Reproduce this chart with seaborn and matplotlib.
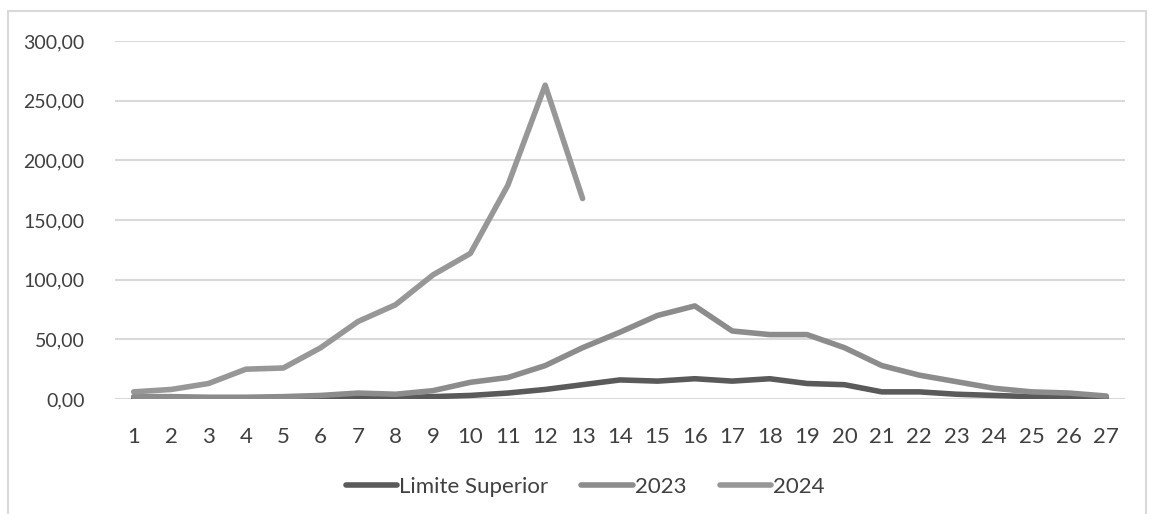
import pandas as pd
import numpy as np
import matplotlib.pyplot as plt
from matplotlib.patches import Rectangle
from matplotlib.ticker import FuncFormatter
import seaborn as sns

semanas = list(range(1, 28))
limite_superior = [1, 1, 1, 1, 1, 1, 1, 1, 2, 3, 5, 8, 12, 16, 15, 17, 15, 17, 13, 12,
                   6, 6, 4, 3, 2, 2, 1.5]
casos_2023 = [2, 2, 1.5, 1.5, 2, 3, 5, 4, 7, 14, 18, 28, 43, 56, 70, 78, 57, 54, 54, 43,
              28, 20, 14.5, 9, 6, 5, 2.5]
casos_2024 = [6, 8, 13, 25, 26, 43, 65, 79, 104, 122, 179, 263, 168]

if __name__ == "__main__":
    sns.set_style("white")
    plt.rcParams['font.family'] = ['Lato', 'DejaVu Sans']

    df = pd.concat([
        pd.DataFrame({"semana": semanas, "valor": limite_superior, "serie": "Limite Superior"}),
        pd.DataFrame({"semana": semanas, "valor": casos_2023, "serie": "2023"}),
        pd.DataFrame({"semana": semanas[:len(casos_2024)], "valor": casos_2024, "serie": "2024"}),
    ])

    fig = plt.figure(figsize=(11.52, 5.14), dpi=100)
    ax = fig.add_axes([0.0998, 0.2237, 0.8768, 0.6965])

    # light frame around the chart area, like the excel export
    fig.patches.append(Rectangle((8 / 1152, -0.1), (1146 - 8) / 1152, 1.1 - 11 / 514,
                                 transform=fig.transFigure, fill=False,
                                 edgecolor="#d9d9d9", linewidth=1.5))

    palette = {"Limite Superior": "#5a5a5a", "2023": "#8c8c8c", "2024": "#979797"}
    sns.lineplot(data=df, x="semana", y="valor", hue="serie", palette=palette,
                 linewidth=4, ax=ax, legend=False, zorder=3)

    ax.set_xlim(0.5, 27.5)
    ax.set_ylim(0, 300)
    ax.set_yticks(np.arange(0, 301, 50))
    ax.set_xticks(semanas)
    ax.yaxis.set_major_formatter(FuncFormatter(lambda v, p: f"{v:.2f}".replace(".", ",")))
    ax.grid(axis="y", color="#d9d9d9", linewidth=1.5)
    for s in ax.spines.values():
        s.set_visible(False)
    ax.tick_params(axis="both", length=0, colors="#404040")
    ax.tick_params(axis="y", pad=22, labelsize=14)
    ax.tick_params(axis="x", pad=20, labelsize=16)
    ax.set_xlabel("")
    ax.set_ylabel("")

    handles = [plt.Line2D([], [], color=palette[k], linewidth=4, solid_capstyle="round")
               for k in ["Limite Superior", "2023", "2024"]]
    fig.legend(handles, ["Limite Superior", "2023", "2024"], loc="center",
               bbox_to_anchor=(585 / 1152, 1 - 487 / 514), ncol=3, frameon=False,
               fontsize=16, handlelength=2.3, handletextpad=0.1, columnspacing=1.5,
               labelcolor="#404040")

    plt.savefig("out.png", dpi=100)
